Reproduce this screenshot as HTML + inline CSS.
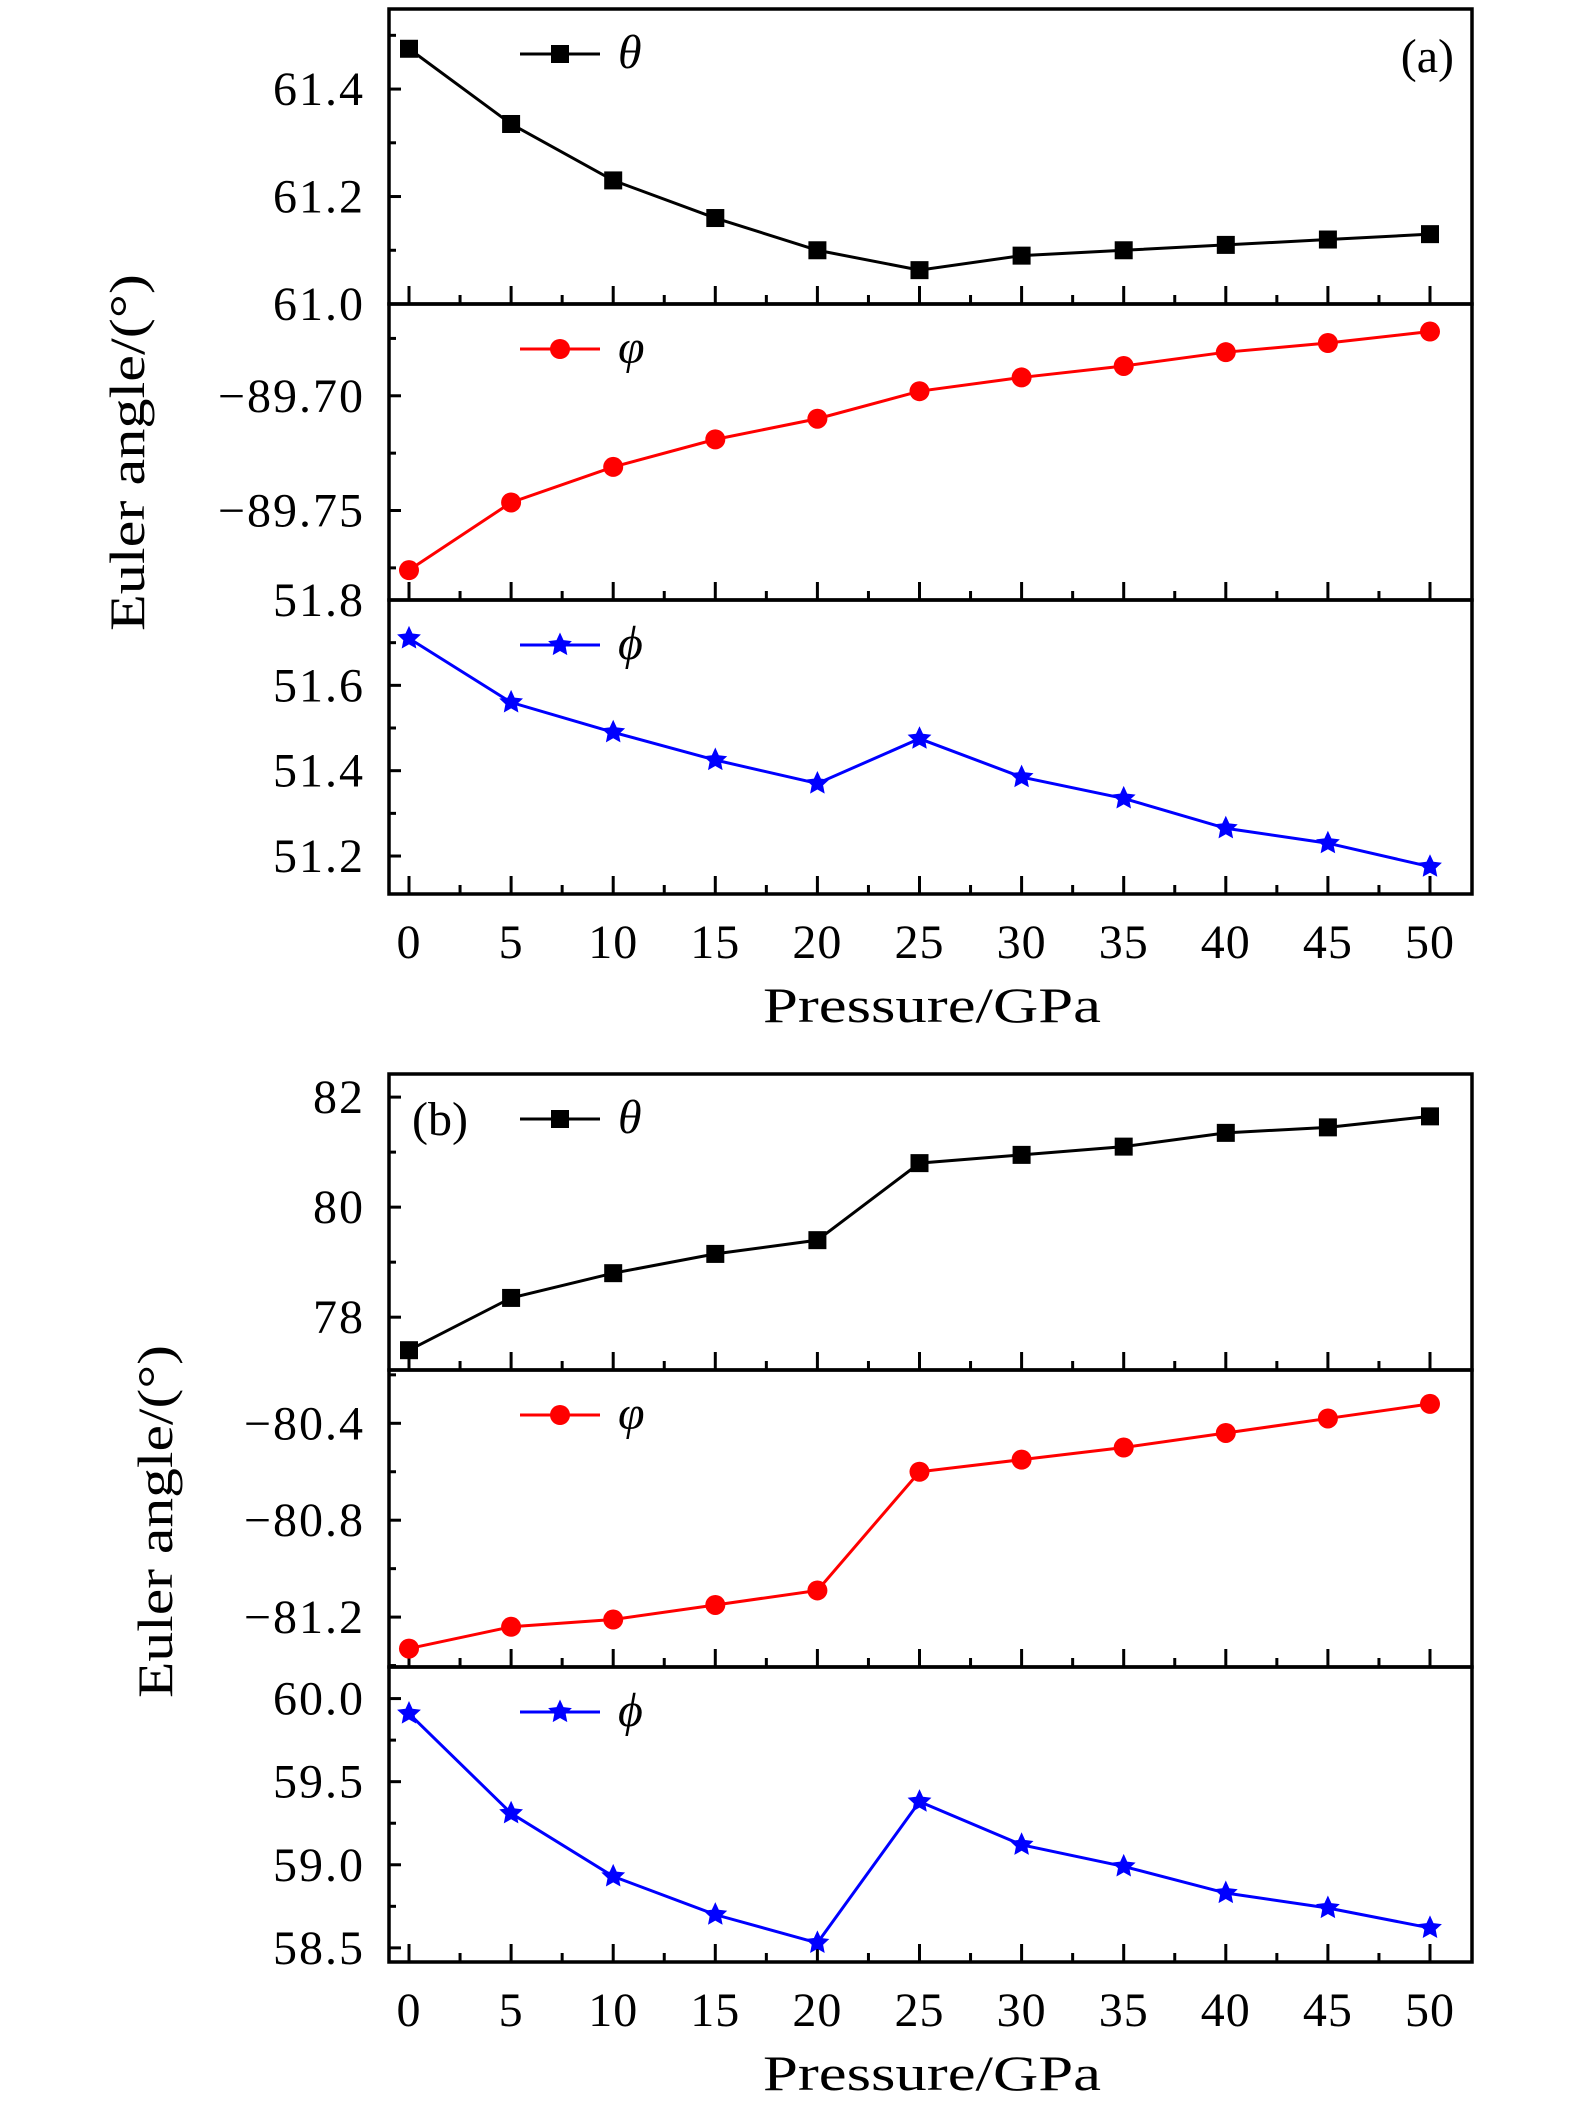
<!DOCTYPE html>
<html><head><meta charset="utf-8"><style>
html,body{margin:0;padding:0;background:#fff;}
svg text{font-family:"Liberation Serif","DejaVu Serif",serif;}
</style></head><body>
<svg id="chart" width="1575" height="2106" viewBox="0 0 1575 2106" xmlns="http://www.w3.org/2000/svg"></svg>
<script>
const pressures = [0,5,10,15,20,25,30,35,40,45,50];
const xTickLabels = ["0","5","10","15","20","25","30","35","40","45","50"];
const thetaA = [61.475,61.335,61.23,61.16,61.10,61.063,61.09,61.10,61.11,61.12,61.13];
const varphiA = [-89.776,-89.7465,-89.731,-89.719,-89.710,-89.698,-89.692,-89.687,-89.681,-89.677,-89.672];
const phiA = [51.71,51.56,51.49,51.425,51.37,51.475,51.385,51.335,51.265,51.23,51.175];
const thetaB = [77.4,78.35,78.8,79.15,79.4,80.8,80.95,81.1,81.35,81.45,81.65];
const varphiB = [-81.33,-81.24,-81.21,-81.15,-81.09,-80.6,-80.55,-80.5,-80.44,-80.38,-80.32];
const phiB = [59.91,59.31,58.93,58.70,58.53,59.38,59.12,58.99,58.83,58.74,58.62];
const ticksThetaA = [61.0,61.2,61.4], labelsThetaA = ["61.0","61.2","61.4"];
const ticksVarphiA = [-89.75,-89.70], labelsVarphiA = ["\u221289.75","\u221289.70"];
const ticksPhiA = [51.2,51.4,51.6,51.8], labelsPhiA = ["51.2","51.4","51.6","51.8"];
const ticksThetaB = [78,80,82], labelsThetaB = ["78","80","82"];
const ticksVarphiB = [-81.2,-80.8,-80.4], labelsVarphiB = ["\u221281.2","\u221280.8","\u221280.4"];
const ticksPhiB = [58.5,59.0,59.5,60.0], labelsPhiB = ["58.5","59.0","59.5","60.0"];

const NS="http://www.w3.org/2000/svg";
const svg=document.getElementById('chart');
const X0=389,X1=1472;
function xs(p){return 409+(p-0)*(1430-409)/50;}
function mk(tag,attrs,parent){const e=document.createElementNS(NS,tag);for(const k in attrs)e.setAttribute(k,attrs[k]);(parent||svg).appendChild(e);return e;}

function panel(name,top,bot,ymin,ymax,ticks,labels,vals,color,marker,sym,showLabelsX){
  const g=mk('g',{});
  
  
  const ys=v=>bot-(v-ymin)/(ymax-ymin)*(bot-top);
  const step=ticks[1]-ticks[0];
  for(let v=ticks[0]-step;v<=ymax+1e-9;v+=step/2){
    if(v<ymin-1e-9)continue;
    const y=ys(v);const major=ticks.some(t=>Math.abs(t-v)<1e-6);
    const t=mk('line',{x1:X0,x2:X0+(major?12:7),y1:y,y2:y,stroke:'#000','stroke-width':3},g);
    
    
  }
  ticks.forEach((v,i)=>{
    const t=mk('text',{x:365,y:ys(v)+16,'font-size':48,'letter-spacing':2,'text-anchor':'end',fill:'#000'},g);
    t.textContent=labels[i];
    
    
  });
  for(let p=0;p<=50;p+=2.5){
    const major=p%5===0;
    const t=mk('line',{x1:xs(p),x2:xs(p),y1:bot,y2:bot-(major?18:9),stroke:'#000','stroke-width':3},g);
    
    
  }
  const fr=mk('rect',{x:X0,y:top,width:X1-X0,height:bot-top,fill:'none',stroke:'#000','stroke-width':3.5},g);
  
  
  const pts=vals.map((v,i)=>xs(pressures[i])+','+ys(v)).join(' ');
  const pl=mk('polyline',{points:pts,fill:'none',stroke:color,'stroke-width':3},g);
  
  
  vals.forEach((v,i)=>drawMarker(g,marker,xs(pressures[i]),ys(v),color,name+'-point'));
  const ly=top+45;
  const leg=mk('g',{},g);
  
  
  mk('line',{x1:520,x2:600,y1:ly,y2:ly,stroke:color,'stroke-width':3},leg);
  drawMarker(leg,marker,560,ly,color,'legend-marker');
  const lt=mk('text',{x:618,y:ly+14,'font-size':48,'font-style':'italic',fill:'#000'},leg);
  lt.textContent=sym;
  if(showLabelsX){
    xTickLabels.forEach((l,i)=>{
      const t=mk('text',{x:xs(pressures[i]),y:bot+64,'font-size':48,'letter-spacing':1,'text-anchor':'middle',fill:'#000'},g);
      t.textContent=l;
      
      
    });
  }
}
function drawMarker(g,type,x,y,color,nm){
  let e;
  if(type==='square') e=mk('rect',{x:x-9,y:y-9,width:18,height:18,fill:color},g);
  else if(type==='circle') e=mk('circle',{cx:x,cy:y,r:10,fill:color},g);
  else {
    let p=[];for(let k=0;k<10;k++){const r=k%2?6:12.5;const a=-Math.PI/2+k*Math.PI/5;p.push((x+r*Math.cos(a)).toFixed(1)+','+(y+r*Math.sin(a)).toFixed(1));}
    e=mk('polygon',{points:p.join(' '),fill:color},g);
  }
  
  
}
panel('theta-a',9,304,61.0,61.549,ticksThetaA,labelsThetaA,thetaA,'#000','square','\u03b8',false);
panel('varphi-a',304,600,-89.789,-89.660,ticksVarphiA,labelsVarphiA,varphiA,'#ff0000','circle','\u03c6',false);
panel('phi-a',600,894,51.111,51.8,ticksPhiA,labelsPhiA,phiA,'#0000ff','star','\u03d5',true);
panel('theta-b',1074,1370,77.04,82.42,ticksThetaB,labelsThetaB,thetaB,'#000','square','\u03b8',false);
panel('varphi-b',1370,1667,-81.406,-80.18,ticksVarphiB,labelsVarphiB,varphiB,'#ff0000','circle','\u03c6',false);
panel('phi-b',1667,1962,58.415,60.19,ticksPhiB,labelsPhiB,phiB,'#0000ff','star','\u03d5',true);

function txt(s,attrs,nm){const t=mk('text',attrs);t.textContent=s;}
txt('(a)',{x:1454,y:72,'font-size':48,'text-anchor':'end'},'panel-a-label');
txt('(b)',{x:412,y:1135,'font-size':48},'panel-b-label');
txt('Pressure/GPa',{x:763,y:1022,'font-size':50,textLength:338,lengthAdjust:'spacingAndGlyphs'},'x-axis-title-a');
txt('Pressure/GPa',{x:763,y:2090,'font-size':50,textLength:338,lengthAdjust:'spacingAndGlyphs'},'x-axis-title-b');
txt('Euler angle/(\u00b0)',{x:-178,y:0,'font-size':50,textLength:357,lengthAdjust:'spacingAndGlyphs',transform:'translate(144,453) rotate(-90)'},'y-axis-title-a');
txt('Euler angle/(\u00b0)',{x:-176,y:0,'font-size':50,textLength:353,lengthAdjust:'spacingAndGlyphs',transform:'translate(172,1522) rotate(-90)'},'y-axis-title-b');
</script>
</body></html>
